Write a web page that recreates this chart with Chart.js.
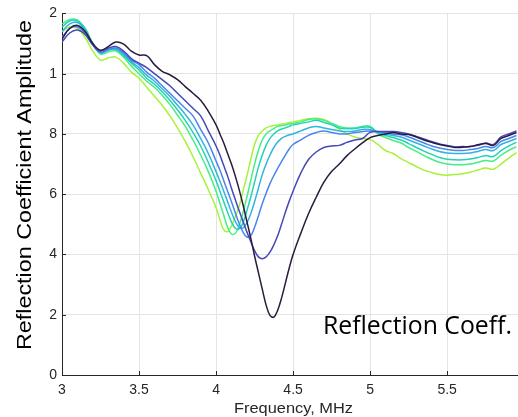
<!DOCTYPE html>
<html>
<head>
<meta charset="utf-8">
<script src="https://cdn.jsdelivr.net/npm/chart.js@4.4.1/dist/chart.umd.min.js"></script>
<style>
html,body{margin:0;padding:0;background:#fff;}
#wrap{width:518px;height:417px;}
</style>
</head>
<body>
<div id="wrap"><canvas id="c" width="518" height="417"></canvas></div>
<script>
// Frequency grid (MHz) - finer sampling through the resonance dip
const freq = [3.00,3.05,3.10,3.15,3.20,3.25,3.30,3.35,3.40,3.45,3.50,3.55,3.60,3.65,3.70,3.75,3.80,3.85,3.90,3.95,
4.000,4.025,4.050,4.075,4.100,4.125,4.150,4.175,4.200,4.225,4.250,4.275,4.300,4.325,4.350,4.375,4.400,4.425,4.450,4.475,4.500,
4.55,4.60,4.65,4.70,4.75,4.80,4.85,4.90,4.95,5.00,5.05,5.10,5.15,5.20,5.25,5.30,5.35,5.40,5.45,5.50,5.55,5.60,5.65,5.70,5.75,5.80,5.85,5.90,5.95];

const s1 = [1.115,1.15,1.16,1.14,1.10,1.078,1.09,1.105,1.098,1.075,1.062,1.06,1.03,1.008,0.996,0.98,0.957,0.935,0.912,0.875,
0.83,0.80,0.77,0.735,0.70,0.66,0.615,0.565,0.51,0.455,0.395,0.34,0.285,0.232,0.198,0.192,0.215,0.255,0.305,0.355,0.40,
0.47,0.535,0.59,0.64,0.675,0.70,0.728,0.75,0.77,0.788,0.795,0.80,0.805,0.80,0.798,0.79,0.78,0.772,0.765,0.76,0.755,0.756,0.758,0.764,0.768,0.762,0.785,0.795,0.805];

const s2 = [1.105,1.135,1.145,1.13,1.095,1.075,1.085,1.09,1.075,1.05,1.035,1.02,1.0,0.98,0.96,0.935,0.91,0.885,0.86,0.81,
0.76,0.73,0.695,0.66,0.62,0.582,0.545,0.51,0.475,0.443,0.413,0.392,0.386,0.392,0.408,0.432,0.462,0.50,0.54,0.577,0.61,
0.67,0.715,0.74,0.755,0.76,0.762,0.772,0.78,0.785,0.805,0.808,0.808,0.808,0.805,0.80,0.792,0.783,0.775,0.767,0.762,0.757,0.758,0.758,0.762,0.77,0.765,0.79,0.80,0.81];

const s3 = [1.12,1.15,1.155,1.135,1.095,1.07,1.08,1.085,1.07,1.045,1.03,1.005,0.985,0.96,0.935,0.91,0.885,0.86,0.815,0.77,
0.71,0.68,0.645,0.61,0.575,0.538,0.503,0.474,0.458,0.462,0.49,0.528,0.568,0.603,0.635,0.662,0.686,0.708,0.73,0.75,0.765,
0.78,0.795,0.805,0.81,0.805,0.80,0.80,0.805,0.808,0.81,0.808,0.805,0.80,0.797,0.79,0.78,0.77,0.76,0.753,0.748,0.745,0.745,0.748,0.752,0.758,0.755,0.775,0.785,0.795];

const s4 = [1.14,1.165,1.17,1.145,1.10,1.07,1.08,1.082,1.065,1.04,1.02,0.995,0.975,0.95,0.925,0.895,0.865,0.83,0.785,0.735,
0.675,0.643,0.61,0.575,0.54,0.51,0.49,0.488,0.505,0.535,0.575,0.62,0.665,0.70,0.73,0.755,0.773,0.785,0.792,0.797,0.80,
0.81,0.82,0.825,0.82,0.815,0.81,0.808,0.81,0.815,0.815,0.805,0.80,0.795,0.79,0.78,0.77,0.76,0.75,0.742,0.737,0.735,0.735,0.737,0.742,0.748,0.745,0.765,0.775,0.785];

const s5 = [1.155,1.175,1.175,1.15,1.10,1.07,1.078,1.08,1.06,1.035,1.012,0.985,0.965,0.94,0.912,0.88,0.845,0.805,0.76,0.705,
0.645,0.61,0.575,0.54,0.508,0.487,0.485,0.505,0.545,0.59,0.64,0.69,0.73,0.762,0.785,0.80,0.81,0.816,0.82,0.825,0.83,
0.835,0.84,0.845,0.838,0.83,0.82,0.817,0.818,0.822,0.822,0.805,0.795,0.788,0.78,0.768,0.755,0.743,0.732,0.722,0.716,0.714,0.714,0.717,0.722,0.728,0.725,0.745,0.76,0.772];

const s6 = [1.165,1.18,1.178,1.15,1.10,1.065,1.072,1.075,1.055,1.025,1.0,0.975,0.955,0.928,0.898,0.862,0.825,0.78,0.73,0.675,
0.61,0.57,0.53,0.49,0.468,0.47,0.497,0.54,0.59,0.645,0.70,0.745,0.78,0.80,0.81,0.818,0.825,0.828,0.83,0.833,0.835,
0.84,0.848,0.85,0.845,0.835,0.825,0.82,0.82,0.825,0.825,0.80,0.788,0.778,0.77,0.755,0.742,0.728,0.716,0.706,0.70,0.698,0.698,0.70,0.706,0.712,0.71,0.73,0.745,0.758];

const s7 = [1.14,1.155,1.15,1.12,1.075,1.045,1.052,1.055,1.035,1.005,0.985,0.955,0.925,0.895,0.86,0.82,0.775,0.725,0.67,0.615,
0.555,0.515,0.482,0.476,0.495,0.525,0.56,0.61,0.66,0.715,0.765,0.795,0.81,0.82,0.825,0.828,0.83,0.833,0.835,0.838,0.84,
0.845,0.85,0.852,0.848,0.835,0.815,0.80,0.79,0.785,0.782,0.765,0.745,0.735,0.718,0.705,0.692,0.68,0.672,0.665,0.663,0.665,0.668,0.673,0.68,0.687,0.683,0.70,0.72,0.738];

const seriesList = [s1, s2, s3, s4, s5, s6, s7];
const seriesColors = ['#2b1b3e','#4549b8','#4a84ee','#2fb5e0','#22d3b5','#47ee83','#a6f23a'];

const xTickValues = [3, 3.5, 4, 4.5, 5, 5.5];
const xTickLabels = ['3','3.5','4','4.5','5','5.5'];
const yTickLabels = ['0','2','4','6','8','1','2'];

const xTitle = 'Frequency, MHz';
const yTitle = 'Reflection Coefficient Amplitude';
const noteText = 'Reflection Coeff.';

const axisColor = '#262626';
const gridColor = '#e4e4e4';

const datasets = seriesList.map((s, k) => ({
  data: freq.map((f, i) => ({x: f, y: s[i]})),
  borderColor: seriesColors[k],
  borderWidth: 1.5,
  pointRadius: 0,
  tension: 0.4,
  fill: false
}));

function fitText(ctx, text, x, y, targetW) {
  const w = ctx.measureText(text).width;
  ctx.save();
  ctx.translate(x, y);
  ctx.scale(targetW / w, 1);
  ctx.fillText(text, 0, 0);
  ctx.restore();
}

const textPlugin = {
  id: 'texts',
  afterDraw(chart) {
    const ctx = chart.ctx;
    const xs = chart.scales.x, ys = chart.scales.y;
    const area = chart.chartArea;
    ctx.save();
    // inward tick marks
    ctx.strokeStyle = axisColor;
    ctx.lineWidth = 1;
    ctx.beginPath();
    ys.ticks.forEach(t => {
      const py = Math.round(ys.getPixelForValue(t.value)) + 0.5;
      ctx.moveTo(area.left, py); ctx.lineTo(area.left + 4, py);
    });
    xs.ticks.forEach(t => {
      const px = Math.round(xs.getPixelForValue(t.value)) + 0.5;
      ctx.moveTo(px, area.bottom); ctx.lineTo(px, area.bottom - 4);
    });
    ctx.stroke();
    // x title
    ctx.fillStyle = axisColor;
    ctx.font = '15px "Liberation Sans", Arial, sans-serif';
    ctx.textAlign = 'left';
    ctx.textBaseline = 'alphabetic';
    fitText(ctx, xTitle, 234, 413, 119);
    // y title
    ctx.save();
    ctx.translate(31, 350);
    ctx.rotate(-Math.PI / 2);
    ctx.font = '20px "Liberation Sans", Arial, sans-serif';
    ctx.fillStyle = '#000';
    fitText(ctx, yTitle, 0, 0, 330);
    ctx.restore();
    // annotation
    ctx.font = '25px "Open Sans", "Noto Sans", sans-serif';
    ctx.fillStyle = '#000';
    fitText(ctx, noteText, 323, 334, 189);
    ctx.restore();
  }
};

new Chart(document.getElementById('c'), {
  type: 'line',
  data: { datasets },
  options: {
    responsive: false,
    animation: false,
    devicePixelRatio: 1,
    layout: { padding: { top: 9, right: 0, left: 0, bottom: 0 } },
    plugins: { legend: { display: false }, tooltip: { enabled: false } },
    scales: {
      x: {
        type: 'linear',
        min: 3, max: 5.96,
        afterFit(scale) { scale.height = 42; },
        afterBuildTicks(scale) { scale.ticks = xTickValues.map(v => ({value: v})); },
        ticks: {
          autoSkip: false,
          maxRotation: 0,
          padding: 7,
          color: axisColor,
          font: { family: '"Liberation Sans", Arial, sans-serif', size: 14 },
          callback: (v) => { const i = xTickValues.indexOf(v); return i >= 0 ? xTickLabels[i] : ''; }
        },
        grid: { color: gridColor, lineWidth: 1, drawTicks: false },
        border: { display: true, color: axisColor, width: 1 }
      },
      y: {
        type: 'linear',
        min: 0, max: 1.2,
        afterFit(scale) { scale.width = 62; },
        ticks: {
          stepSize: 0.2,
          padding: 5,
          color: axisColor,
          font: { family: '"Liberation Sans", Arial, sans-serif', size: 14 },
          callback: (v, i) => yTickLabels[i]
        },
        grid: { color: gridColor, lineWidth: 1, drawTicks: false },
        border: { display: true, color: axisColor, width: 1 }
      }
    }
  },
  plugins: [textPlugin]
});
</script>
</body>
</html>
